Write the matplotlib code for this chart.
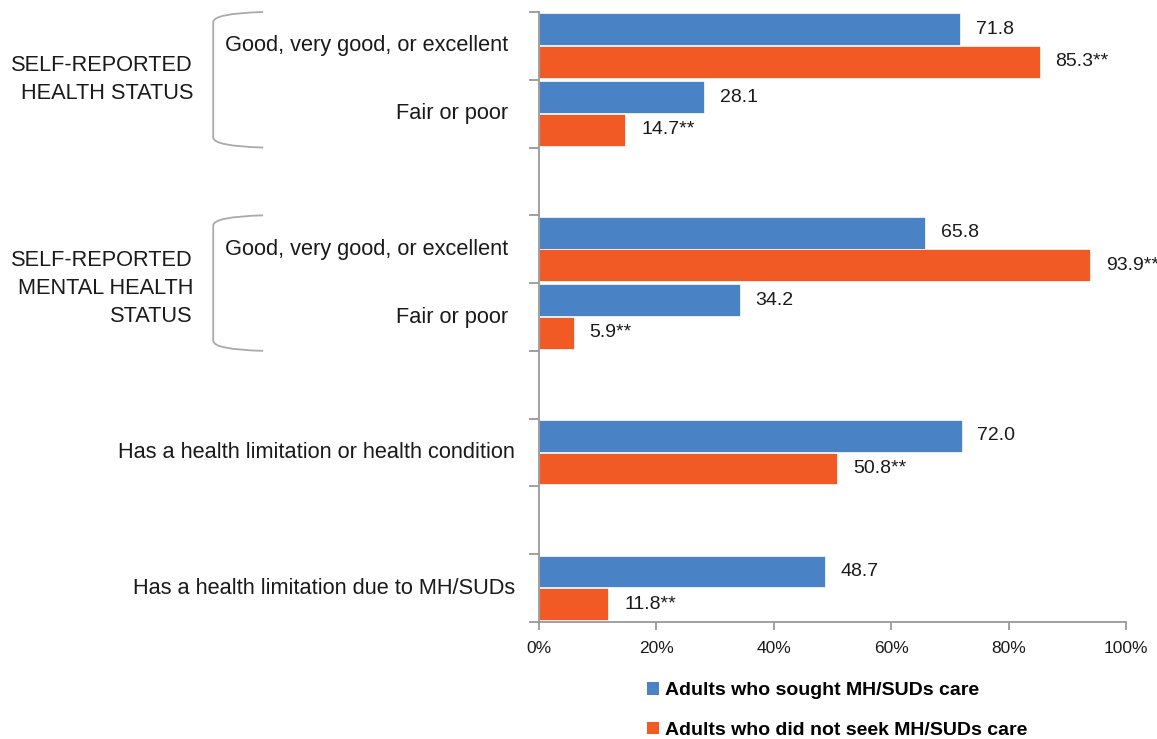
import matplotlib
matplotlib.use('Agg')
import matplotlib.pyplot as plt
from matplotlib.patches import Patch, PathPatch
from matplotlib.path import Path
import matplotlib.transforms as mtransforms

plt.rcParams['font.family'] = ['Liberation Sans', 'DejaVu Sans']

categories = ['Good, very good, or excellent', 'Fair or poor',
              'Good, very good, or excellent', 'Fair or poor',
              'Has a health limitation or health condition',
              'Has a health limitation due to MH/SUDs']
sought = [71.8, 28.1, 65.8, 34.2, 72.0, 48.7]
not_sought = [85.3, 14.7, 93.9, 5.9, 50.8, 11.8]
series_names = ['Adults who sought MH/SUDs care', 'Adults who did not seek MH/SUDs care']
groups = ['SELF-REPORTED\nHEALTH STATUS', 'SELF-REPORTED\nMENTAL HEALTH\nSTATUS']
x_ticks = [0, 20, 40, 60, 80, 100]

# row slots (blank rows between sections)
slots = [0, 1, 3, 4, 6, 8]
sub_label = [True, True, True, True, False, False]
group_slots = [(0, 1), (3, 4)]

blue = '#4a83c5'
orange = '#f15a24'
gray = '#999999'
txt = '#1a1a1a'

fig = plt.figure(figsize=(11.57, 7.39), dpi=100)
ax = fig.add_axes([539 / 1157, 1 - 622 / 739, 587 / 1157, 610 / 739])

h = 0.47
yb = [s - 0.245 for s in slots]
yo = [s + 0.235 for s in slots]
ax.barh(yb, sought, height=h, color=blue, edgecolor='white', linewidth=0.5)
ax.barh(yo, not_sought, height=h, color=orange, edgecolor='white', linewidth=0.5)

for y, v in zip(yb, sought):
    ax.text(v + 2.7, y, f'{v:.1f}', va='center', ha='left', fontsize=14, color=txt)
for y, v in zip(yo, not_sought):
    ax.text(v + 2.7, y, f'{v:.1f}**', va='center', ha='left', fontsize=14, color=txt)

ax.set_xlim(0, 100)
ax.set_ylim(8.5, -0.5)
ax.set_xticks(x_ticks)
ax.set_xticklabels([f'{t}%' for t in x_ticks], fontsize=12.5, color=txt)
ax.tick_params(axis='x', length=6, width=1.3, color=gray, pad=8)

ax.set_yticks([i - 0.5 for i in range(10)])
ax.set_yticklabels([])
ax.tick_params(axis='y', length=7, width=1.3, color=gray)

for side in ['top', 'right']:
    ax.spines[side].set_visible(False)
for side in ['left', 'bottom']:
    ax.spines[side].set_color(gray)
    ax.spines[side].set_linewidth(1.3)

trans = mtransforms.blended_transform_factory(ax.transAxes, ax.transData)

for s, lab, sub in zip(slots, categories, sub_label):
    xo = -0.0528 if sub else -0.0409
    ax.text(xo, s, lab, transform=trans, ha='right', va='center',
            fontsize=15.7, color=txt, clip_on=False)

for (a, b), g in zip(group_slots, groups):
    yc = (a + b) / 2 + (0.08 if g.count('\n') > 1 else 0)
    ax.text(-0.5894, yc, g, transform=trans, ha='right', va='center',
            fontsize=15.7, color=txt, linespacing=1.45, clip_on=False)
    # bracket
    x0, x1 = -0.555, -0.470
    top, bot = a - 0.5, b + 0.5
    verts = [(x1, top), (x0, top + 0.02), (x0, top + 0.15),
             (x0, bot - 0.15), (x0, bot - 0.02), (x1, bot)]
    codes = [Path.MOVETO, Path.CURVE3, Path.CURVE3, Path.LINETO, Path.CURVE3, Path.CURVE3]
    ax.add_patch(PathPatch(Path(verts, codes), transform=trans, fill=False,
                           edgecolor='#aaaaaa', linewidth=1.3, clip_on=False))

handles = [Patch(facecolor=blue), Patch(facecolor=orange)]
fig.legend(handles, series_names, loc='upper left',
           bbox_to_anchor=(647 / 1157, 1 - 682 / 739), frameon=False,
           handlelength=0.62, handleheight=0.62, handletextpad=0.3,
           labelspacing=1.15, borderaxespad=0, borderpad=0,
           prop={'weight': 'bold', 'size': 14})

fig.savefig('out.png', dpi=100)
